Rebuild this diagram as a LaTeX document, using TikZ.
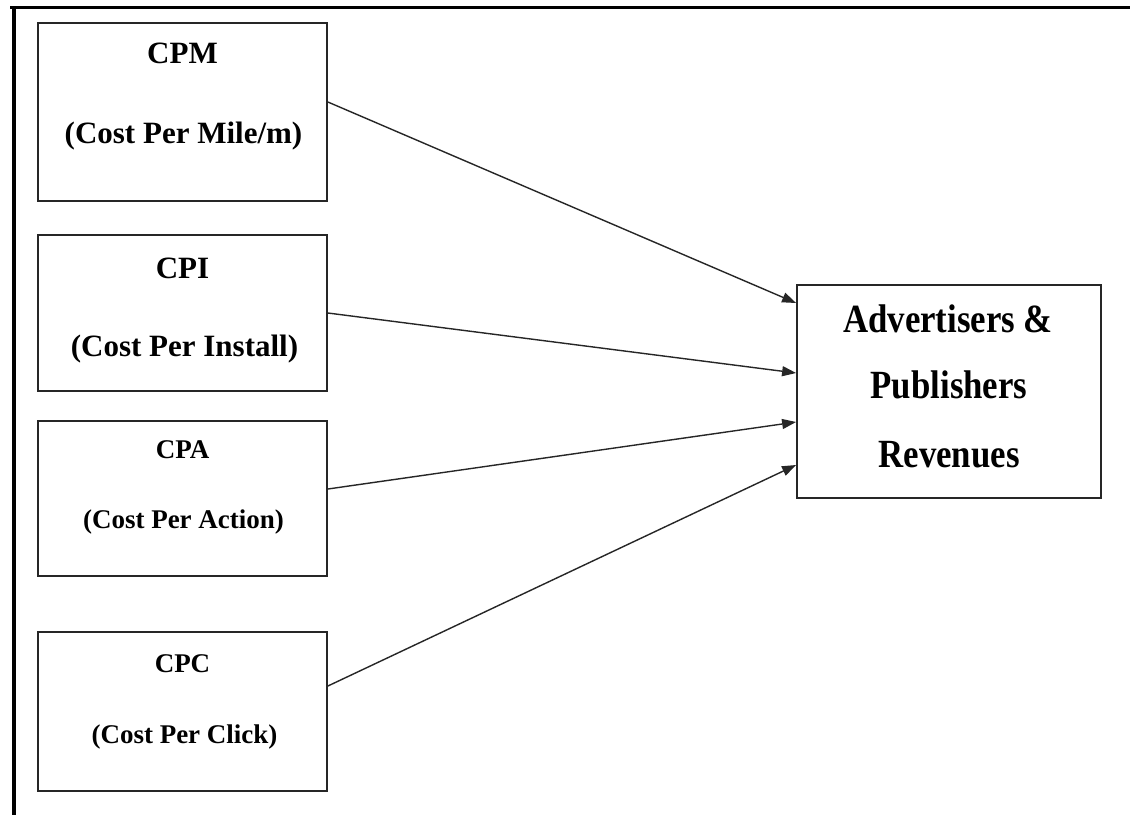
\documentclass[tikz,border=0pt]{standalone}
\usepackage{fontspec}
\setmainfont{Liberation Serif}
\usetikzlibrary{arrows.meta,calc}
\begin{document}
\begin{tikzpicture}[x=1pt,y=-1pt,
  box/.style={draw=black!85,line width=1.8pt,rectangle,inner sep=0pt,fill=white},
  bigtxt/.style={anchor=base,inner sep=0pt,font=\bfseries\fontsize{31}{31}\selectfont},
  smalltxt/.style={anchor=base,inner sep=0pt,font=\bfseries\fontsize{27}{27}\selectfont},
  revtxt/.style={anchor=base,inner sep=0pt,font=\bfseries\fontsize{40}{40}\selectfont},
  conn/.style={line width=1.4pt,draw=black!85,-{Triangle[length=14pt,width=10pt]}},
  frame/.style={line width=3.2pt,black}]
\useasboundingbox[fill=white] (0,0) rectangle (1130,815);
% frame
\coordinate (ftl) at (14,7.5);
\coordinate (ftr) at (1130,7.5);
\coordinate (fbl) at (14,815);
\draw[frame] ([xshift=-4pt]ftl) -- (ftr);
\draw[frame,line width=4pt] ([yshift=1.5pt]ftl) -- (fbl);
% boxes
\node[box,minimum width=289pt,minimum height=178pt] (cpm) at (182.5,112) {};
\node[box,minimum width=289pt,minimum height=156pt] (cpi) at (182.5,313) {};
\node[box,minimum width=289pt,minimum height=155pt] (cpa) at (182.5,498.5) {};
\node[box,minimum width=289pt,minimum height=159pt] (cpc) at (182.5,711.5) {};
\node[box,minimum width=304pt,minimum height=213pt] (rev) at (949,391.5) {};
% texts
\node[bigtxt] (cpmT) at (182.5,63) {CPM};
\node[bigtxt] (cpmS) at (183.5,143) {(Cost Per Mile/m)};
\node[bigtxt] (cpiT) at (182.5,278) {CPI};
\node[bigtxt] (cpiS) at (184.5,356) {(Cost Per Install)};
\node[smalltxt] (cpaT) at (182.5,458) {CPA};
\node[smalltxt] (cpaS) at (183.5,528) {(Cost Per Action)};
\node[smalltxt] (cpcT) at (182.5,672) {CPC};
\node[smalltxt] (cpcS) at (184.5,743) {(Cost Per Click)};
\node[revtxt] (revA) at (948,332) {\scalebox{0.87}[1]{Advertisers \&}};
\node[revtxt] (revB) at (949,398) {\scalebox{0.87}[1]{Publishers}};
\node[revtxt] (revC) at (949,467) {\scalebox{0.87}[1]{Revenues}};
% connectors
\draw[conn] ([yshift=10pt]cpm.east) -- ([yshift=88.5pt]rev.west);
\draw[conn] (cpi.east) -- ([yshift=18.5pt]rev.west);
\draw[conn] ([yshift=9.5pt]cpa.east) -- ([yshift=-30.5pt]rev.west);
\draw[conn] ([yshift=25.5pt]cpc.east) -- ([yshift=-73.5pt]rev.west);
\end{tikzpicture}
\end{document}
